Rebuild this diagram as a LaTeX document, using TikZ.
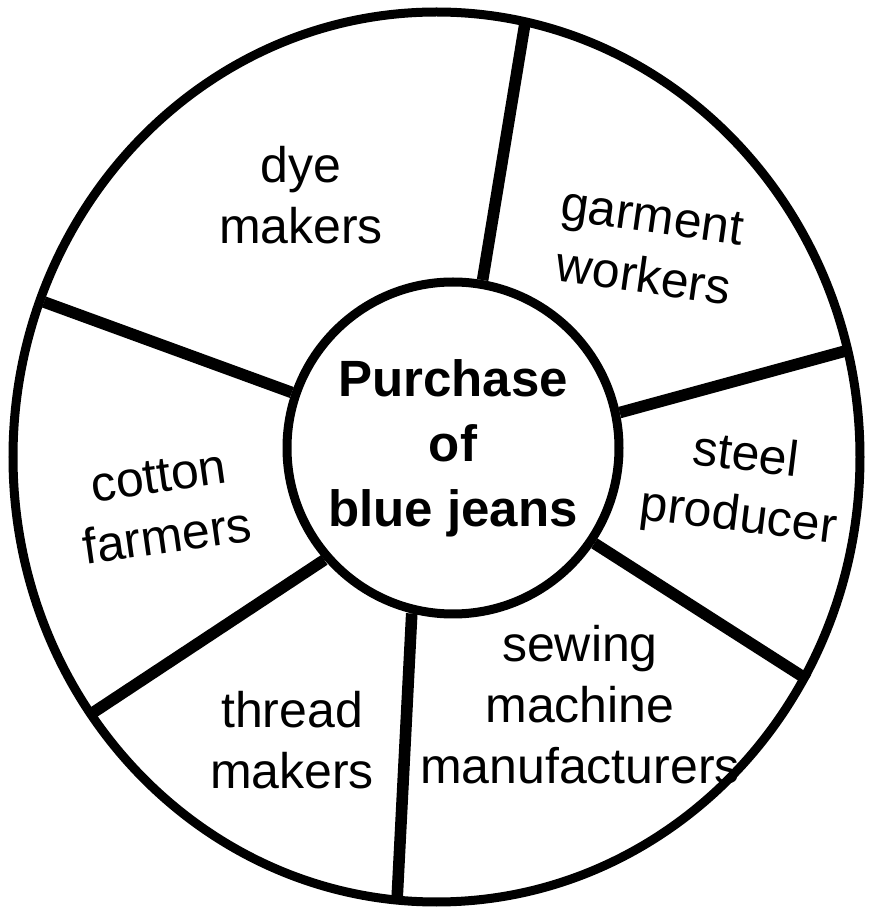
\documentclass[tikz,border=0pt]{standalone}
\usepackage{fontspec}
\setmainfont{Liberation Sans}

\begin{document}
\begin{tikzpicture}[x=0.5pt,y=0.5pt]
        \tikzset{rim/.style={line width=4.5pt},
        spoke/.style={line width=5.8pt},
        sector/.style={align=center, inner sep=0pt,
            font=\fontsize{25}{30.5}\selectfont},
        hub/.style={circle, draw, line width=4.5pt, minimum size=166pt,
            inner sep=0pt, align=center,
            font=\fontsize{25.5}{32.5}\selectfont\bfseries}}
        \useasboundingbox (0,0) rectangle (869,912);
        % outer wheel and centre
        \draw[rim] (436.5,455) ellipse [x radius=423.5, y radius=445];
        \node[hub] (jeans) at (453,464) {Purchase\\of\\blue jeans};
        % where the spokes meet the wheel
        \coordinate (rimA) at (525,889);
        \coordinate (rimB) at (849,562);
        \coordinate (rimC) at (808,232);
        \coordinate (rimD) at (397,11);
        \coordinate (rimE) at (94,200);
        \coordinate (rimF) at (44,610);
        \draw[spoke] (jeans.80.6) -- (rimA);
        \draw[spoke] (jeans.12.4) -- (rimB);
        \draw[spoke] (jeans.-34.3) -- (rimC);
        \draw[spoke] (jeans.256.9) -- (rimD);
        \draw[spoke] (jeans.221.2) -- (rimE);
        \draw[spoke] (jeans.161.5) -- (rimF);
        % sectors
        \node[sector] (dye) at (301,717) {dye\\makers};
        \node[sector, rotate=-8] (garment) at (648,665) {garment\\workers};
        \node[sector, rotate=-7] (steel) at (742,424) {steel\\producer};
        \node[sector] (sewing) at (580,207) {sewing\\machine\\manufacturers};
        \node[sector] (thread) at (292,172) {thread\\makers};
        \node[sector, rotate=8] (cotton) at (163,405) {cotton\\farmers};
    \end{tikzpicture}
\end{document}
